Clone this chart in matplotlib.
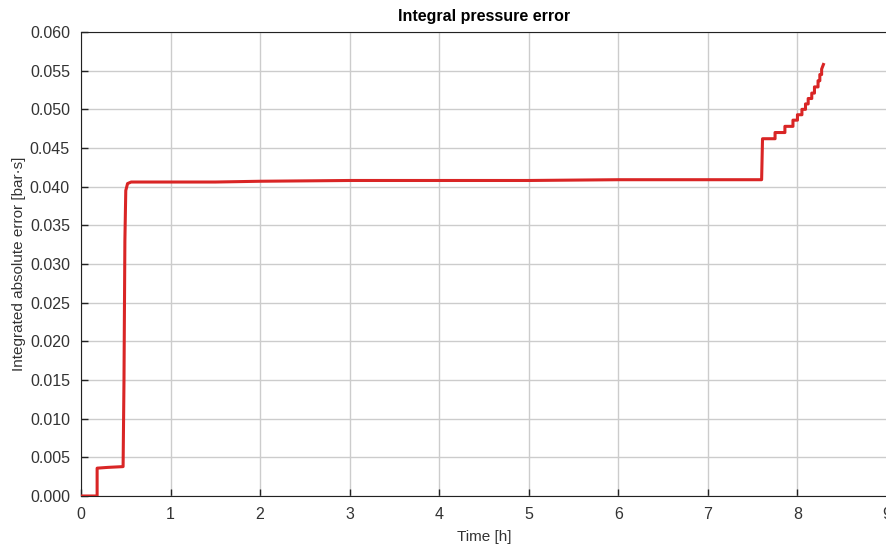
import matplotlib
matplotlib.use("Agg")
import matplotlib.pyplot as plt

# values (time in hours, integrated error in bar*s)
t_h = [0.0, 0.18, 0.18, 0.30, 0.47, 0.48, 0.49, 0.50, 0.52, 0.56, 1.0, 1.5,
       2.0, 3.0, 4.0, 5.0, 6.0, 7.0, 7.60,
       7.61, 7.75, 7.75, 7.86, 7.86, 7.95, 7.95, 8.00, 8.00, 8.05, 8.05,
       8.09, 8.09, 8.12, 8.12, 8.16, 8.16, 8.19, 8.19, 8.23, 8.23, 8.25,
       8.25, 8.27, 8.27, 8.29]
err = [0.0, 0.0, 0.0036, 0.0037, 0.0038, 0.015, 0.033, 0.0395, 0.0404, 0.0406,
       0.0406, 0.0406, 0.0407, 0.0408, 0.0408, 0.0408, 0.0409, 0.0409, 0.0409,
       0.0462, 0.0462, 0.0470, 0.0470, 0.0478, 0.0478, 0.0486, 0.0486,
       0.0493, 0.0493, 0.0500, 0.0500, 0.0507, 0.0507, 0.0514, 0.0514,
       0.0521, 0.0521, 0.0529, 0.0529, 0.0537, 0.0537, 0.0545, 0.0545,
       0.0552, 0.0558]

x_ticks = list(range(0, 10))
y_ticks = [0.000, 0.005, 0.010, 0.015, 0.020, 0.025, 0.030, 0.035, 0.040,
           0.045, 0.050, 0.055, 0.060]

plt.rcParams['font.family'] = ['Liberation Sans', 'DejaVu Sans']

fig = plt.figure(figsize=(8.87, 5.47), dpi=100)
ax = fig.add_axes([81 / 887, 51 / 547, 806 / 887, 464 / 547])

ax.plot(t_h, err, color='#d92525', lw=2.2, solid_joinstyle='round', zorder=3)

ax.set_xlim(0, 9)
ax.set_ylim(0, 0.06)
ax.set_xticks(x_ticks)
ax.set_yticks(y_ticks)
ax.set_yticklabels(["%.3f" % v for v in y_ticks])
ax.grid(True, color='#cccccc', lw=1)
ax.set_axisbelow(True)

ax.tick_params(direction='in', length=5, width=1, colors='#222222',
               labelsize=11.5, labelcolor='#333333', pad=8)
ax.spines['right'].set_visible(False)
for s in ['left', 'top', 'bottom']:
    ax.spines[s].set_color('#222222')

ax.set_title('Integral pressure error', fontsize=11.5, fontweight='bold', pad=8)
ax.set_xlabel('Time [h]', fontsize=11, color='#333333', labelpad=6)
ax.set_ylabel('Integrated absolute error [bar\u00b7s]', fontsize=11,
              color='#333333', labelpad=3)

fig.savefig('out.png', dpi=100)
